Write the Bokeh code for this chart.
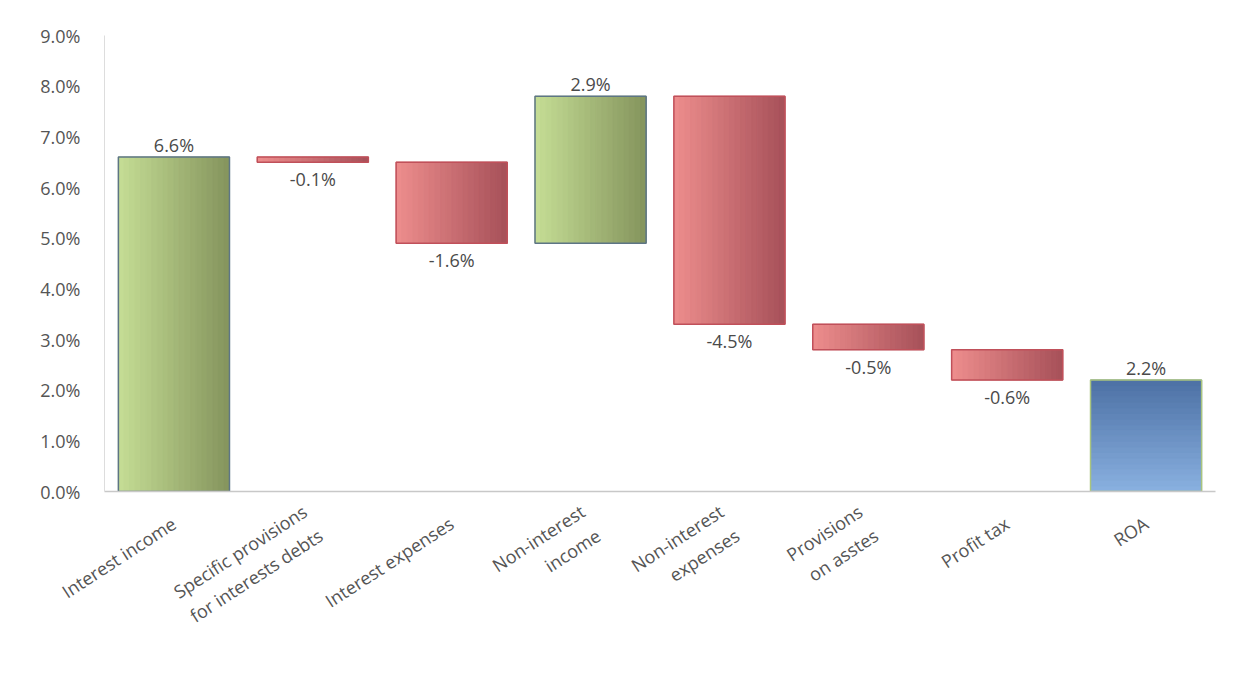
import math
from bokeh.plotting import figure
from bokeh.models import FixedTicker, Range1d
from bokeh.core.properties import value
from bokeh.embed import file_html
from bokeh.resources import INLINE

# ---- data ----
categories = ["Interest income", "Specific provisions\nfor interests debts", "Interest expenses",
              "Non-interest\nincome", "Non-interest\nexpenses", "Provisions\non asstes",
              "Profit tax", "ROA"]
changes = [6.6, -0.1, -1.6, 2.9, -4.5, -0.5, -0.6]
total_value = 2.2
y_ticks = [0, 1, 2, 3, 4, 5, 6, 7, 8, 9]

# ---- waterfall geometry from data ----
bottoms, tops, kinds, vals = [], [], [], []
run = 0.0
for v in changes:
    start, end = run, run + v
    bottoms.append(min(start, end)); tops.append(max(start, end))
    kinds.append("pos" if v >= 0 else "neg"); vals.append(v)
    run = end
bottoms.append(0.0); tops.append(total_value); kinds.append("tot"); vals.append(total_value)

FONT = "Open Sans"

p = figure(width=1236, height=677, output_backend="svg", toolbar_location=None,
           x_range=Range1d(-0.5, 7.5), y_range=Range1d(0, 9),
           min_border_left=104, min_border_right=21, min_border_top=35, min_border_bottom=186)
p.outline_line_color = None
p.xgrid.grid_line_color = None
p.ygrid.grid_line_color = None
p.background_fill_color = "white"
p.border_fill_color = "white"

def lerp(c1, c2, t):
    a = [int(c1[i:i+2], 16) for i in (1, 3, 5)]
    b = [int(c2[i:i+2], 16) for i in (1, 3, 5)]
    return "#%02x%02x%02x" % tuple(round(a[j] + (b[j] - a[j]) * t) for j in range(3))

W = 0.8
N = 20
grad = {"pos": ("#c4dc94", "#86965e"), "neg": ("#ec8c8c", "#a8525a")}
border = {"pos": "#5d7585", "neg": "#c0505a", "tot": "#a9c47e"}

for i, (b, t, k) in enumerate(zip(bottoms, tops, kinds)):
    if k in grad:
        c1, c2 = grad[k]
        xs = [i - W / 2 + (j + 0.5) * W / N for j in range(N)]
        cols = [lerp(c1, c2, j / (N - 1)) for j in range(N)]
        p.vbar(x=xs, width=W / N, bottom=b, top=t, fill_color=cols, line_color=cols, line_width=1)
    else:
        ys = [b + (j + 0.5) * (t - b) / N for j in range(N)]
        cols = [lerp("#88afdf", "#4e72a6", j / (N - 1)) for j in range(N)]
        p.hbar(y=ys, height=(t - b) / N, left=i - W / 2, right=i + W / 2,
               fill_color=cols, line_color=cols, line_width=1)
    p.vbar(x=[i], width=W, bottom=b, top=t, fill_color=None, line_color=border[k], line_width=1.5)

# value labels
xs_pos = [i for i, k in enumerate(kinds) if k != "neg"]
p.text(x=xs_pos, y=[tops[i] for i in xs_pos], text=["%.1f%%" % vals[i] for i in xs_pos],
       text_align="center", text_baseline="bottom", y_offset=0,
       text_font_size="18px", text_color="#4a4a4a", text_font=value(FONT))
xs_neg = [i for i, k in enumerate(kinds) if k == "neg"]
p.text(x=xs_neg, y=[bottoms[i] for i in xs_neg], text=["%.1f%%" % vals[i] for i in xs_neg],
       text_align="center", text_baseline="top", y_offset=5,
       text_font_size="18px", text_color="#4a4a4a", text_font=value(FONT))

# axes
p.xaxis.ticker = FixedTicker(ticks=list(range(len(categories))))
p.xaxis.major_label_overrides = {i: c for i, c in enumerate(categories)}
p.xaxis.major_label_orientation = math.radians(33)
p.xaxis.major_label_text_font = FONT
p.xaxis.major_label_text_font_size = "18px"
p.xaxis.major_label_text_color = "#555555"
p.xaxis.axis_line_color = "#c8c8c8"
p.xaxis.axis_line_width = 1.5
p.xaxis.major_tick_line_color = None
p.xaxis.minor_tick_line_color = None
p.xaxis.major_label_standoff = 24

p.yaxis.ticker = FixedTicker(ticks=y_ticks)
p.yaxis.major_label_overrides = {t: "%.1f%%" % t for t in y_ticks}
p.yaxis.major_label_text_font = FONT
p.yaxis.major_label_text_font_size = "18px"
p.yaxis.major_label_text_color = "#555555"
p.yaxis.axis_line_color = "#dddddd"
p.yaxis.major_tick_line_color = None
p.yaxis.minor_tick_line_color = None
p.yaxis.major_label_standoff = 18

open("out.html", "w").write(file_html(p, INLINE))
